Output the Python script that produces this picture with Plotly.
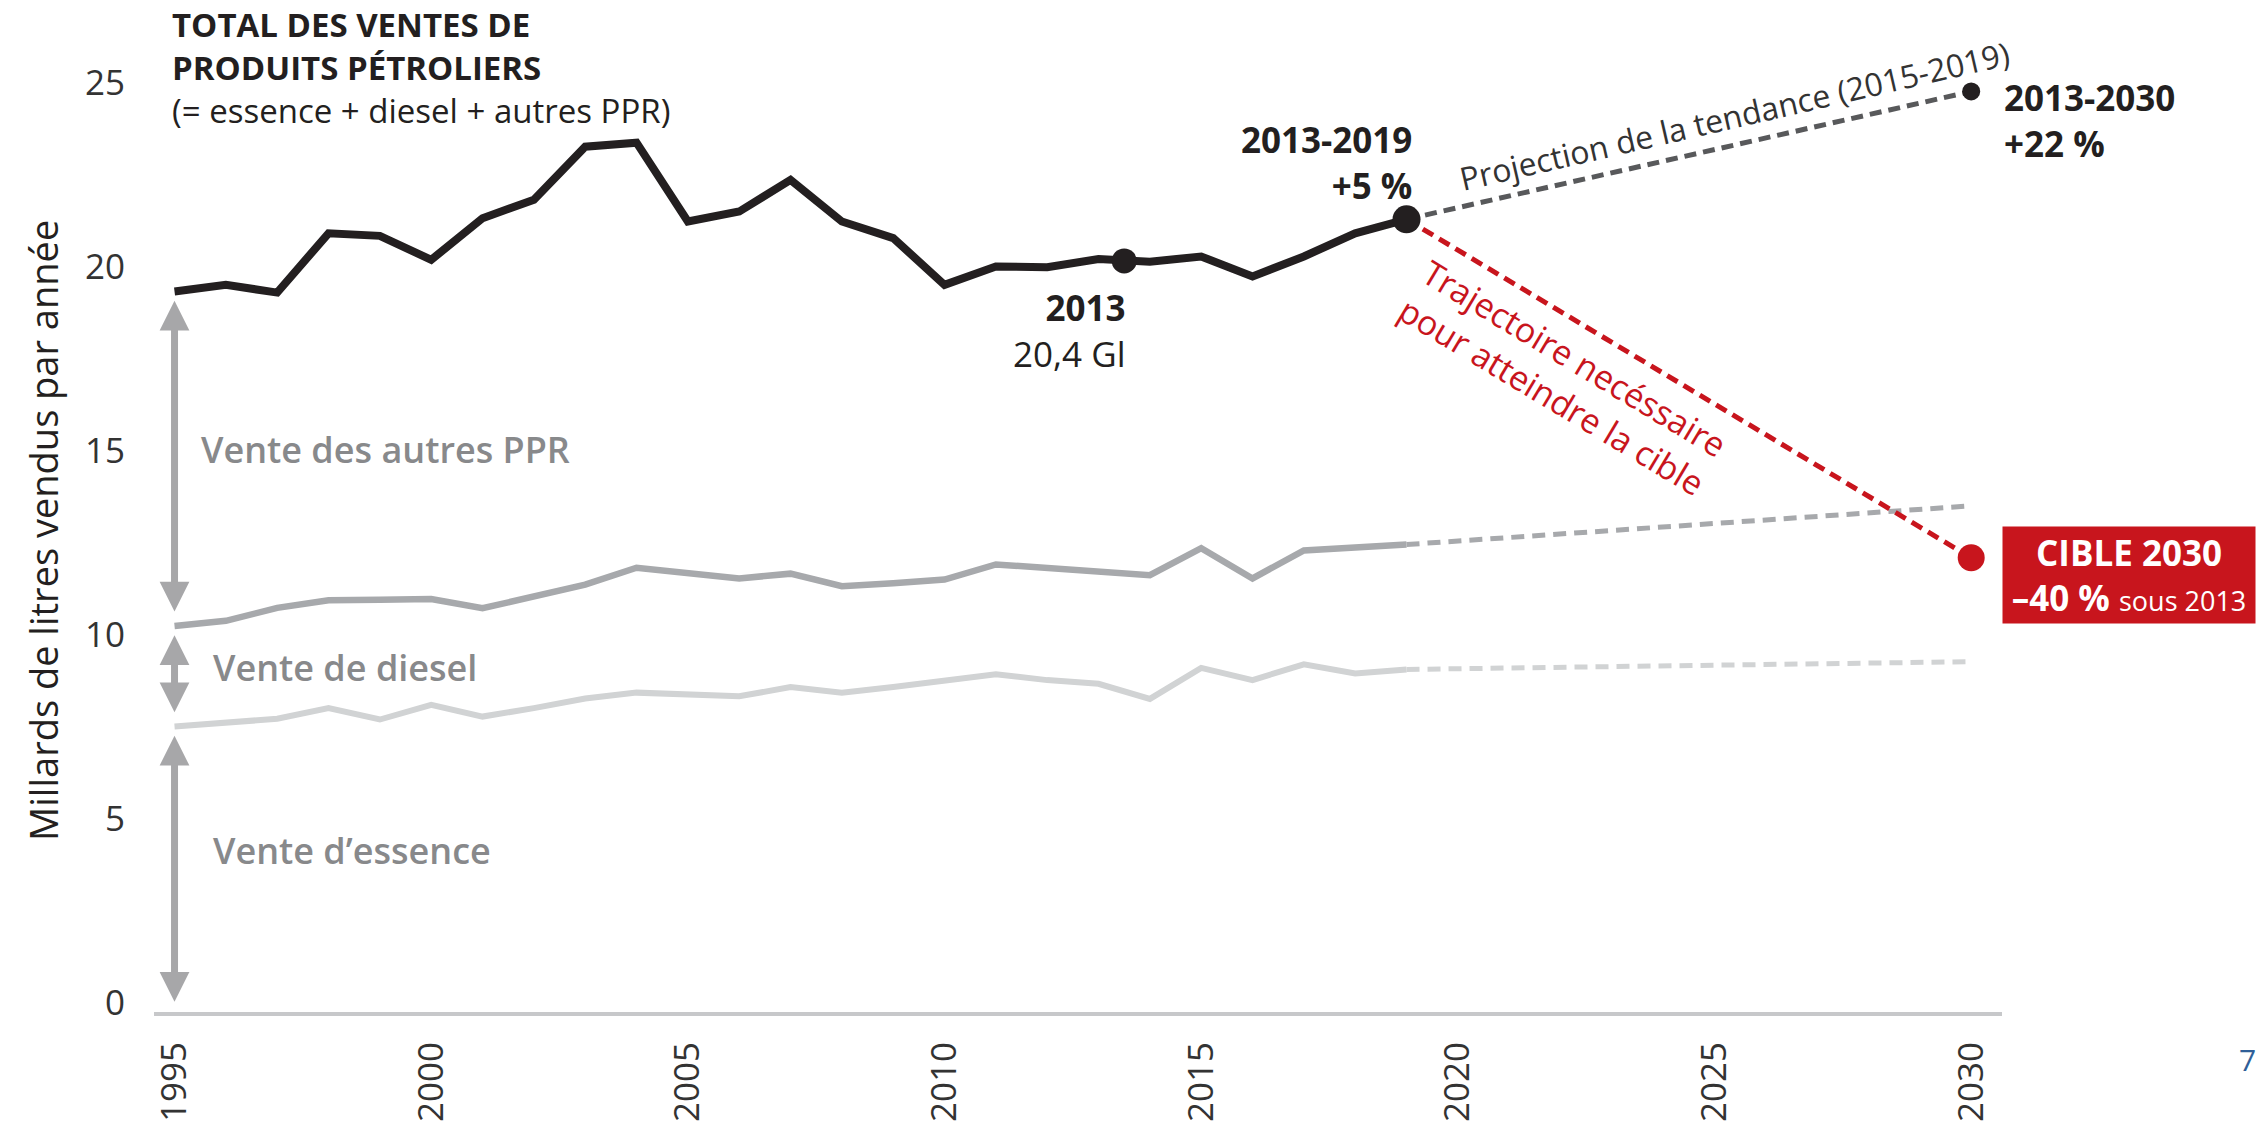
import plotly.graph_objects as go

# ---------------- data ----------------
years = list(range(1995, 2020))
total = [19.32, 19.50, 19.29, 20.90, 20.83, 20.18, 21.31, 21.81, 23.25, 23.36,
         21.22, 21.49, 22.35, 21.22, 20.77, 19.50, 20.00, 19.98, 20.20, 20.13,
         20.27, 19.73, 20.27, 20.90, 21.28]
essence_diesel = [10.24, 10.38, 10.73, 10.94, 10.95, 10.97, 10.72, 11.04, 11.36, 11.82,
                  11.69, 11.53, 11.66, 11.32, 11.40, 11.50, 11.91, 11.81, 11.71, 11.62,
                  12.35, 11.53, 12.29, 12.38, 12.45]
essence = [7.51, 7.61, 7.72, 8.01, 7.70, 8.10, 7.78, 8.01, 8.27, 8.43,
           8.37, 8.33, 8.58, 8.43, 8.58, 8.75, 8.93, 8.77, 8.67, 8.26,
           9.10, 8.77, 9.20, 8.95, 9.06]

proj_years = [2019, 2030]
proj_total = [21.28, 24.75]
proj_target = [21.28, 12.09]
proj_essence_diesel = [12.45, 13.5]
proj_essence = [9.06, 9.27]

ref_point = (2013.5, 20.15)   # "2013 – 20,4 Gl" marker as drawn

xtick_vals = [1995, 2000, 2005, 2010, 2015, 2020, 2025, 2030]
ytick_vals = [0, 5, 10, 15, 20, 25]

# ---------------- styles ----------------
BLACK = "#231f20"
MID = "#a7a9ac"
LIGHT = "#d1d3d4"
RED = "#c8151d"
DARK = "#58595b"
ARROW = "#a7a7a9"
LABEL_GRAY = "#88898b"
FONT = "Open Sans"

fig = go.Figure()

# essence (light grey)
fig.add_trace(go.Scatter(x=years, y=essence, mode="lines",
                         line=dict(color=LIGHT, width=6), cliponaxis=False))
fig.add_trace(go.Scatter(x=proj_years, y=proj_essence, mode="lines",
                         line=dict(color=LIGHT, width=5, dash="13px,8px"), cliponaxis=False))
# essence + diesel (mid grey)
fig.add_trace(go.Scatter(x=years, y=essence_diesel, mode="lines",
                         line=dict(color=MID, width=6.5), cliponaxis=False))
fig.add_trace(go.Scatter(x=proj_years, y=proj_essence_diesel, mode="lines",
                         line=dict(color=MID, width=5, dash="13px,8px"), cliponaxis=False))
# trend projection
fig.add_trace(go.Scatter(x=proj_years, y=proj_total, mode="lines",
                         line=dict(color=DARK, width=5, dash="12px,7px"), cliponaxis=False))
# target trajectory
fig.add_trace(go.Scatter(x=proj_years, y=proj_target, mode="lines",
                         line=dict(color=RED, width=5, dash="12px,7px"), cliponaxis=False))
# total (black)
fig.add_trace(go.Scatter(x=years, y=total, mode="lines",
                         line=dict(color=BLACK, width=8), cliponaxis=False))
# highlight dots
fig.add_trace(go.Scatter(x=[ref_point[0], years[-1]], y=[ref_point[1], total[-1]], mode="markers",
                         marker=dict(color=BLACK, size=[25, 28], opacity=1, line=dict(width=0)),
                         cliponaxis=False))
fig.add_trace(go.Scatter(x=[proj_years[-1]], y=[proj_total[-1]], mode="markers",
                         marker=dict(color=BLACK, size=18, opacity=1, line=dict(width=0)),
                         cliponaxis=False))
fig.add_trace(go.Scatter(x=[proj_years[-1]], y=[proj_target[-1]], mode="markers",
                         marker=dict(color=RED, size=27, opacity=1, line=dict(width=0)),
                         cliponaxis=False))

ann = []

# double-headed arrows at 1995
gap = 0.25
x0 = years[0]
arrow_spans = [
    (0.0, essence[0] - gap),
    (essence[0] + gap + 0.1, essence_diesel[0] - gap),
    (essence_diesel[0] + gap + 0.1, total[0] - gap),
]
for lo, hi in arrow_spans:
    ann.append(dict(x=x0, y=hi, ax=x0, ay=lo, xref="x", yref="y", axref="x", ayref="y",
                    text="", showarrow=True, arrowhead=2, arrowsize=0.85, arrowwidth=7,
                    arrowcolor=ARROW, arrowside="end+start", standoff=0, startstandoff=0))

lab_font = dict(family=FONT, size=36, color=LABEL_GRAY, weight=600)
ann.append(dict(x=1995.48, y=15.02, xref="x", yref="y", text="Vente des autres PPR",
                showarrow=False, xanchor="left", yanchor="middle", font=lab_font))
ann.append(dict(x=1995.72, y=9.10, xref="x", yref="y", text="Vente de diesel",
                showarrow=False, xanchor="left", yanchor="middle", font=lab_font))
ann.append(dict(x=1995.72, y=4.15, xref="x", yref="y", text="Vente d’essence",
                showarrow=False, xanchor="left", yanchor="middle", font=lab_font))

# title block
ann.append(dict(x=1994.92, y=1.02, xref="x", yref="paper",
                text="<b>TOTAL DES VENTES DE<br>PRODUITS PÉTROLIERS</b><br>(= essence + diesel + autres PPR)",
                showarrow=False, xanchor="left", yanchor="top", align="left",
                font=dict(family=FONT, size=33, color=BLACK)))

# y-axis title
ann.append(dict(x=0, xref="paper", xshift=-111, y=12.82, yref="y",
                text="Millards de litres vendus par année", textangle=-90,
                showarrow=False, xanchor="center", yanchor="middle",
                font=dict(family=FONT, size=38, color=BLACK)))

# 2013 label
ann.append(dict(x=2013.55, y=18.25, xref="x", yref="y", text="<b>2013</b><br>20,4 Gl",
                showarrow=False, xanchor="right", yanchor="middle", align="right",
                font=dict(family=FONT, size=35, color=BLACK)))
# 2013-2019
ann.append(dict(x=2019.14, y=22.81, xref="x", yref="y", text="<b>2013-2019<br>+5 %</b>",
                showarrow=False, xanchor="right", yanchor="middle", align="right",
                font=dict(family=FONT, size=35, color=BLACK)))
# 2013-2030
ann.append(dict(x=2030.6, y=23.95, xref="x", yref="y", text="<b>2013-2030<br>+22 %</b>",
                showarrow=False, xanchor="left", yanchor="middle", align="left",
                font=dict(family=FONT, size=35, color=BLACK)))
# projection text
ann.append(dict(x=2025.39, y=24.09, xref="x", yref="y", text="Projection de la tendance (2015-2019)",
                textangle=-13, showarrow=False, xanchor="center", yanchor="middle",
                font=dict(family=FONT, size=32, color="#333333")))
# trajectory text
ann.append(dict(x=2022.05, y=17.0, xref="x", yref="y",
                text="Trajectoire necéssaire<br>pour atteindre la cible",
                textangle=31, showarrow=False, xanchor="center", yanchor="middle", align="center",
                font=dict(family=FONT, size=34, color=RED)))
# target box
ann.append(dict(x=2030.6, y=11.63, xref="x", yref="y",
                text="<b>CIBLE 2030</b><br><b>–40 %</b> <span style='font-size:27px'>sous 2013</span>",
                showarrow=False, xanchor="left", yanchor="middle", align="center",
                bgcolor=RED, width=248, height=92, borderpad=2,
                font=dict(family=FONT, size=35, color="white")))
# page number
ann.append(dict(x=1.133, y=-0.048, xref="paper", yref="paper", text="7",
                showarrow=False, xanchor="center", yanchor="middle",
                font=dict(family=FONT, size=30, color="#2f5f98")))

fig.update_layout(
    template="none",
    width=2267, height=1127,
    margin=dict(l=154, r=265, t=20, b=115, autoexpand=False),
    paper_bgcolor="white", plot_bgcolor="white",
    showlegend=False,
    annotations=ann,
    xaxis=dict(range=[1994.6, 2030.6], tickvals=xtick_vals, tickangle=-90,
               showgrid=False, zeroline=False, showline=True, linecolor="#c7c8ca", linewidth=4,
               ticks="", ticklabelstandoff=12, automargin=False,
               tickfont=dict(family=FONT, size=35, color="#333333")),
    yaxis=dict(range=[-0.24, 26.69], tickvals=ytick_vals,
               showgrid=False, zeroline=False, showline=False,
               ticks="", ticklabelstandoff=28, automargin=False,
               tickfont=dict(family=FONT, size=35, color="#333333")),
)

fig.write_html("out.html", config={"displayModeBar": False},
               post_script="document.body.style.margin='0';document.body.style.overflow='hidden';")
